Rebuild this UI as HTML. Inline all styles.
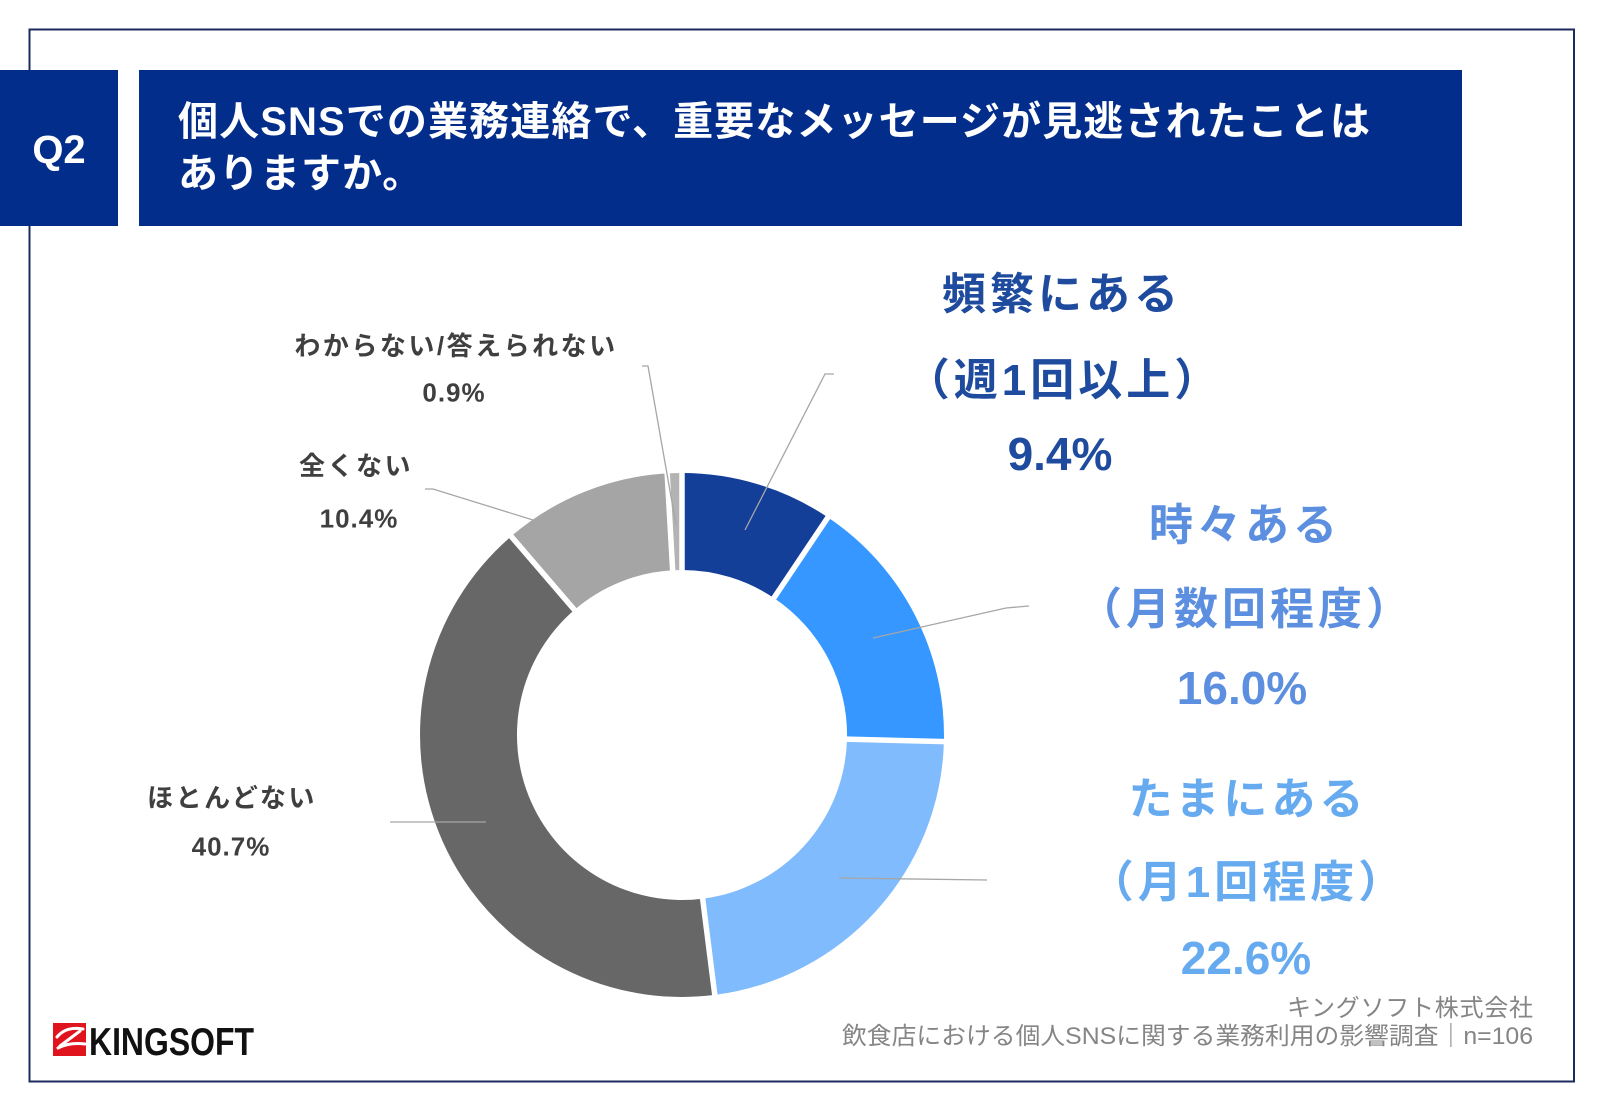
<!DOCTYPE html>
<html lang="ja">
<head>
<meta charset="utf-8">
<style>
  html, body { margin: 0; padding: 0; background: #fff; }
  svg { display: block; }
  text { font-family: "Liberation Sans", "Noto Sans CJK JP", sans-serif; }
  .b { font-weight: bold; }
</style>
</head>
<body>
<svg width="1601" height="1108" viewBox="0 0 1601 1108" xmlns="http://www.w3.org/2000/svg">
  <rect x="0" y="0" width="1601" height="1108" fill="#ffffff"/>

  <!-- frame -->
  <rect x="29.5" y="29.5" width="1544.5" height="1052" fill="none" stroke="#1b2b5e" stroke-width="2"/>

  <!-- header -->
  <rect x="0" y="70" width="118" height="156" fill="#032d8b"/>
  <rect x="139" y="70" width="1323" height="156" fill="#032d8b"/>
  <text x="59" y="163" text-anchor="middle" font-size="40" class="b" fill="#ffffff">Q2</text>
  <text x="178" y="135" font-size="40" class="b" fill="#ffffff" textLength="1192" lengthAdjust="spacing">個人SNSでの業務連絡で、重要なメッセージが見逃されたことは</text>
  <text x="178" y="187" font-size="40" class="b" fill="#ffffff" letter-spacing="1">ありますか。</text>

  <!-- donut -->
  <g>
    <path d="M682,473 A262,262 0 0 1 827.9,517.4 L773.9,598.0 A165,165 0 0 0 682,570 Z" fill="#133f99"/>
    <path d="M827.9,517.4 A262,262 0 0 1 943.9,741.6 L847.0,739.1 A165,165 0 0 0 773.9,598.0 Z" fill="#3597ff"/>
    <path d="M943.9,741.6 A262,262 0 0 1 714.8,994.9 L702.7,898.7 A165,165 0 0 0 847.0,739.1 Z" fill="#80bbfd"/>
    <path d="M714.8,994.9 A262,262 0 0 1 511.2,536.3 L574.4,609.9 A165,165 0 0 0 702.7,898.7 Z" fill="#676767"/>
    <path d="M511.2,536.3 A262,262 0 0 1 667.2,473.4 L672.7,570.3 A165,165 0 0 0 574.4,609.9 Z" fill="#a5a5a5"/>
    <path d="M667.2,473.4 A262,262 0 0 1 682,473 L682,570 A165,165 0 0 0 672.7,570.3 Z" fill="#b3b3b3"/>
    <g stroke="#ffffff" stroke-width="5.5" stroke-linecap="butt">
      <line x1="682" y1="735" x2="682" y2="465"/>
      <line x1="682" y1="735" x2="832.4" y2="510.7"/>
      <line x1="682" y1="735" x2="951.9" y2="741.8"/>
      <line x1="682" y1="735" x2="715.8" y2="1002.9"/>
      <line x1="682" y1="735" x2="506.0" y2="530.3"/>
      <line x1="682" y1="735" x2="666.7" y2="465.4"/>
    </g>
    <circle cx="682" cy="735" r="163" fill="#ffffff"/>
  </g>

  <!-- leader lines -->
  <g fill="none" stroke="#a6a6a6" stroke-width="1.3">
    <polyline points="745,530 825,374 834,374"/>
    <polyline points="873,638 1006,608 1029,606"/>
    <polyline points="839,878 987,880"/>
    <polyline points="390,822 486,822"/>
    <polyline points="425,489 433,489 533,520"/>
    <polyline points="642,366 648,366 676,525"/>
  </g>

  <!-- left labels -->
  <g class="b" fill="#3f3f3f" font-size="26" text-anchor="middle">
    <text x="456" y="355" letter-spacing="2.5">わからない/答えられない</text>
    <text x="454" y="401.5" letter-spacing="1">0.9%</text>
    <text x="356" y="475" letter-spacing="2.5">全くない</text>
    <text x="359" y="527.5" letter-spacing="1">10.4%</text>
    <text x="232" y="807" letter-spacing="2.5">ほとんどない</text>
    <text x="231" y="855.5" letter-spacing="1">40.7%</text>
  </g>

  <!-- right labels -->
  <g class="b" text-anchor="middle">
    <text x="1062" y="309" font-size="44" letter-spacing="4" fill="#1e4b9e">頻繁にある</text>
    <text x="1064" y="395" font-size="44" letter-spacing="4" fill="#1e4b9e">（週1回以上）</text>
    <text x="1060" y="470" font-size="46" fill="#1e4b9e">9.4%</text>

    <text x="1245" y="540" font-size="44" letter-spacing="4" fill="#5c8fdf">時々ある</text>
    <text x="1246" y="624" font-size="44" letter-spacing="4" fill="#5c8fdf">（月数回程度）</text>
    <text x="1242" y="704" font-size="46" fill="#5c8fdf">16.0%</text>

    <text x="1248" y="814" font-size="44" letter-spacing="4" fill="#66aaf0">たまにある</text>
    <text x="1248" y="897" font-size="44" letter-spacing="4" fill="#66aaf0">（月1回程度）</text>
    <text x="1246" y="974" font-size="46" fill="#66aaf0">22.6%</text>
  </g>

  <!-- footer -->
  <text x="1287" y="1016" font-size="24" fill="#858585" textLength="246" lengthAdjust="spacing">キングソフト株式会社</text>
  <text x="842" y="1044" font-size="24" fill="#858585" textLength="691" lengthAdjust="spacingAndGlyphs">飲食店における個人SNSに関する業務利用の影響調査｜n=106</text>

  <!-- logo -->
  <rect x="53" y="1023" width="33" height="33" fill="#e0141c"/>
  <g fill="none" stroke="#ffffff" stroke-width="3" stroke-linecap="round">
    <path d="M57,1037 Q66,1026 83,1029"/>
    <path d="M80,1031 L60,1046"/>
    <path d="M58,1048 Q70,1042 85,1044"/>
  </g>
  <text x="89" y="1055" font-size="39" class="b" fill="#111111" textLength="165" lengthAdjust="spacingAndGlyphs">KINGSOFT</text>
</svg>
</body>
</html>
